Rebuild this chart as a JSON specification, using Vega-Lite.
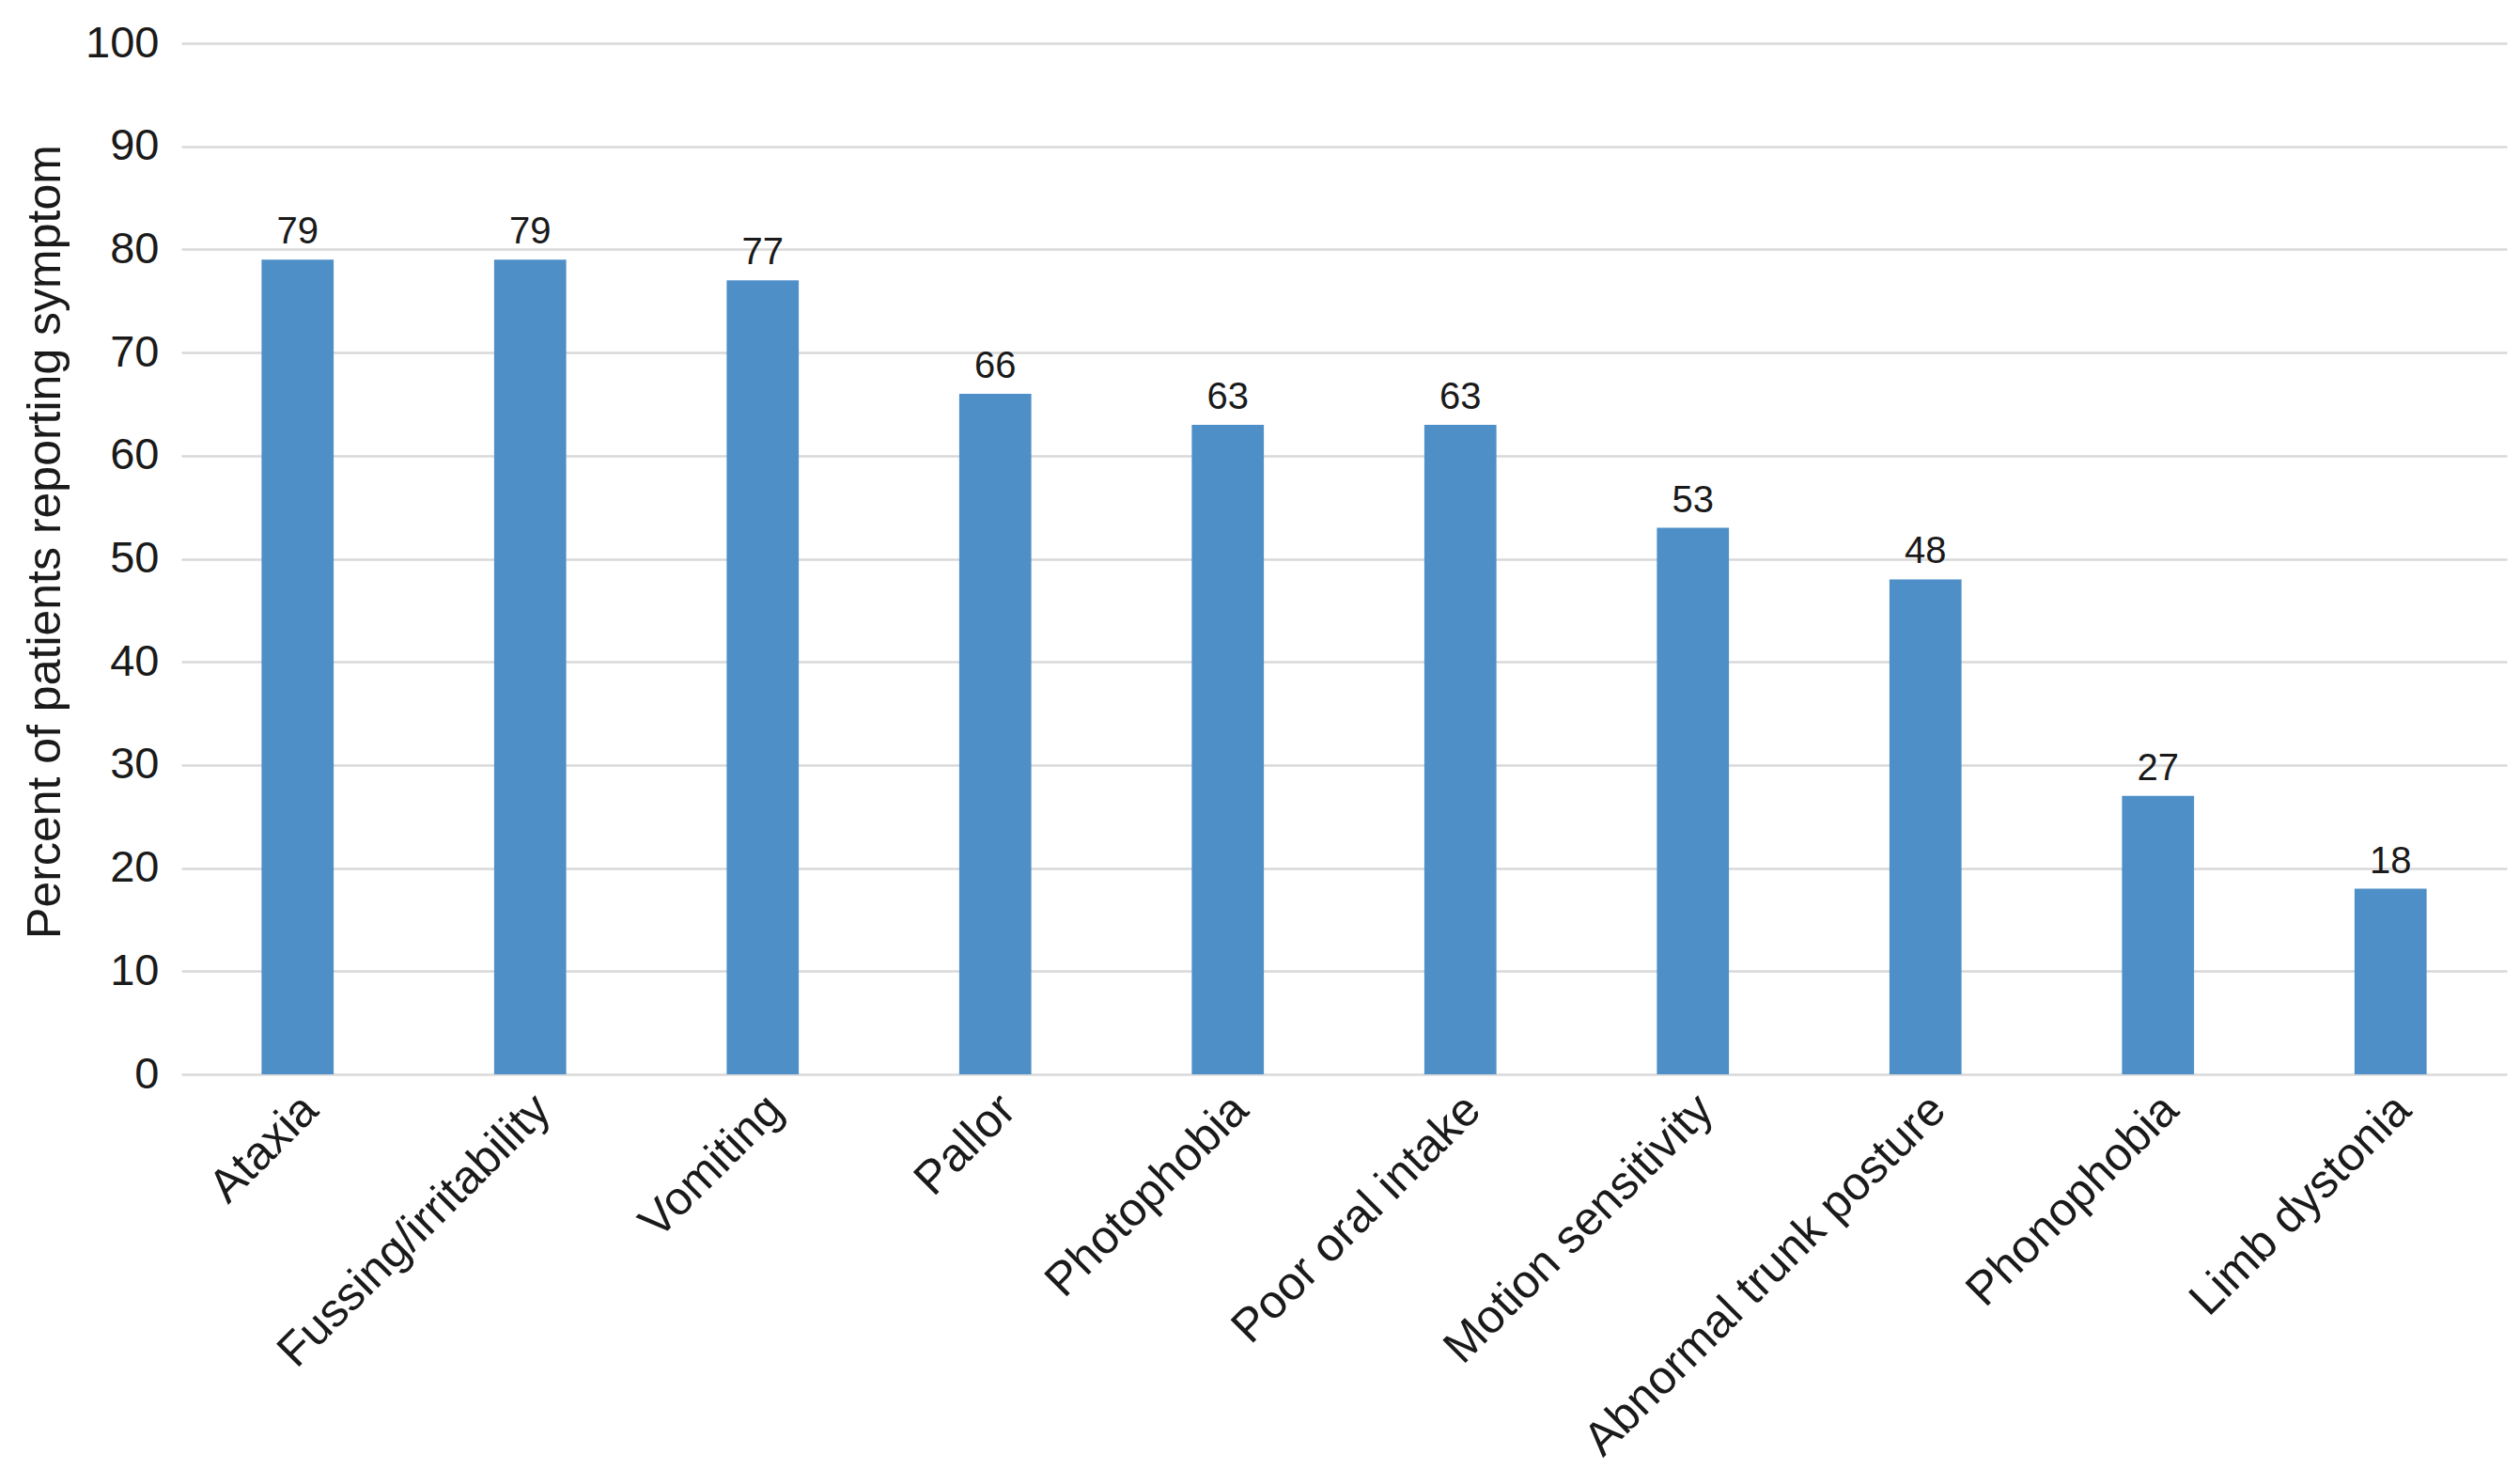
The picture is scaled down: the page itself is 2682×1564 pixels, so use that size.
{
  "$schema": "https://vega.github.io/schema/vega-lite/v6.json",
  "autosize": {"type": "none"},
  "padding": {"left": 193, "top": 46, "right": 14, "bottom": 421},
  "width": 2475,
  "height": 1097,
  "background": "white",
  "data": {
    "values": [
      {"symptom": "Ataxia", "percent": 79},
      {"symptom": "Fussing/irritability", "percent": 79},
      {"symptom": "Vomiting", "percent": 77},
      {"symptom": "Pallor", "percent": 66},
      {"symptom": "Photophobia", "percent": 63},
      {"symptom": "Poor oral intake", "percent": 63},
      {"symptom": "Motion sensitivity", "percent": 53},
      {"symptom": "Abnormal trunk posture", "percent": 48},
      {"symptom": "Phonophobia", "percent": 27},
      {"symptom": "Limb dystonia", "percent": 18}
    ]
  },
  "config": {
    "view": {"stroke": null},
    "font": "Liberation Sans",
    "axis": {
      "labelFont": "Liberation Sans",
      "titleFont": "Liberation Sans",
      "labelColor": "#1a1a1a",
      "titleColor": "#1a1a1a",
      "titleFontWeight": "normal"
    }
  },
  "encoding": {
    "x": {
      "field": "symptom",
      "type": "nominal",
      "sort": null,
      "scale": {"paddingInner": 0.69, "paddingOuter": 0.345},
      "axis": {
        "title": null,
        "labelAngle": -45,
        "labelFontSize": 50,
        "labelPadding": 12,
        "labelOffset": -4,
        "ticks": false,
        "domain": false,
        "labelLimit": 1000
      }
    },
    "y": {
      "field": "percent",
      "type": "quantitative",
      "scale": {"domain": [0, 100], "nice": false},
      "axis": {
        "title": "Percent of patients reporting symptom",
        "values": [0, 10, 20, 30, 40, 50, 60, 70, 80, 90, 100],
        "labelFontSize": 47,
        "labelPadding": 24,
        "ticks": false,
        "domain": false,
        "grid": true,
        "gridColor": "#d9d9d9",
        "gridWidth": 2.5,
        "titleFontSize": 50,
        "titleAngle": -90,
        "titleX": -145,
        "titleY": 530,
        "titleAlign": "center",
        "titleBaseline": "middle"
      }
    }
  },
  "layer": [
    {"mark": {"type": "bar", "color": "#4f8fc8"}},
    {
      "mark": {"type": "text", "baseline": "alphabetic", "dy": -17, "fontSize": 40, "color": "#1a1a1a", "font": "Liberation Sans"},
      "encoding": {"text": {"field": "percent", "type": "quantitative"}}
    }
  ]
}
